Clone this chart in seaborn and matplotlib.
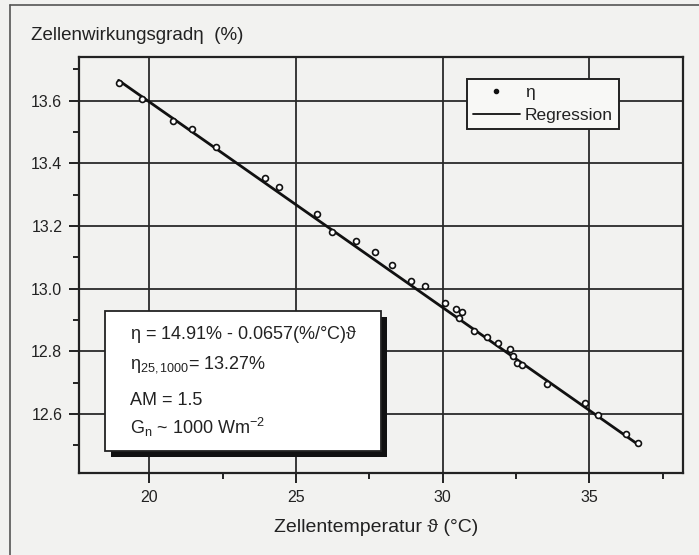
import matplotlib
matplotlib.use('Agg')
import matplotlib.pyplot as plt
from matplotlib.lines import Line2D
from matplotlib.patches import Rectangle
from matplotlib.ticker import MultipleLocator
import seaborn as sns
import pandas as pd

# Messpunkte
temp = [18.98, 19.74, 20.80, 21.45, 22.27, 23.94, 24.43, 25.71, 26.22, 27.04,
        27.70, 28.26, 28.91, 29.40, 30.08, 30.46, 30.65, 30.57, 31.08, 31.50,
        31.88, 32.30, 32.39, 32.53, 32.70, 33.55, 34.86, 35.31, 36.25, 36.67]
eta = [13.655, 13.607, 13.535, 13.511, 13.451, 13.354, 13.325, 13.237, 13.181, 13.153,
       13.116, 13.075, 13.025, 13.008, 12.953, 12.935, 12.926, 12.905, 12.866, 12.845,
       12.826, 12.806, 12.785, 12.764, 12.756, 12.696, 12.636, 12.597, 12.535, 12.507]
# Regressionsgerade (Endpunkte)
reg_temp = [18.95, 36.70]
reg_eta = [13.665, 12.500]

x_ticks = [20, 25, 30, 35]
y_ticks = [12.6, 12.8, 13.0, 13.2, 13.4, 13.6]
info_lines = [r'$\mathregular{\eta}$ = 14.91% - 0.0657(%/°C)ϑ',
              r'$\mathregular{\eta_{25,1000}}$= 13.27%',
              'AM = 1.5',
              r'G$_\mathregular{n}$ ~ 1000 Wm$^\mathregular{-2}$']

df = pd.DataFrame({'temp': temp, 'eta': eta})
reg = pd.DataFrame({'temp': reg_temp, 'eta': reg_eta})

sns.set_theme(style='ticks')
paper = '#f2f2f0'
plt.rcParams['font.family'] = ['Liberation Sans', 'DejaVu Sans']
plt.rcParams.update({'mathtext.fontset': 'custom', 'mathtext.rm': 'Liberation Sans',
                     'mathtext.it': 'Liberation Sans', 'mathtext.default': 'regular',
                     'axes.edgecolor': '#222222', 'text.color': '#222222',
                     'xtick.color': '#222222', 'ytick.color': '#222222'})

fig = plt.figure(figsize=(6.99, 5.55), dpi=100, facecolor=paper)
ax = fig.add_axes([0.113, 0.148, 0.864, 0.749])
ax.set_facecolor(paper)

# Rahmen des Scans (oben und links)
fig.add_artist(Line2D([10 / 699, 1], [1 - 5 / 555, 1 - 5 / 555], transform=fig.transFigure,
                      color='#555555', lw=1.2))
fig.add_artist(Line2D([10 / 699, 10 / 699], [0, 1 - 5 / 555], transform=fig.transFigure,
                      color='#555555', lw=1.2))

ax.grid(True, which='major', color='#2a2a2a', lw=1.3)
ax.set_axisbelow(True)

sns.lineplot(data=reg, x='temp', y='eta', ax=ax, color='#111111', lw=2.0, zorder=3,
             legend=False)
sns.scatterplot(data=df, x='temp', y='eta', ax=ax, marker='o', s=18, facecolor='white',
                edgecolor='#111111', linewidth=1.2, zorder=4, legend=False)

ax.set_xlim(17.6, 38.19)
ax.set_ylim(12.412, 13.739)
ax.set_xticks(x_ticks)
ax.set_yticks(y_ticks)
ax.set_yticklabels([f'{v:.1f}' for v in y_ticks])
ax.xaxis.set_minor_locator(MultipleLocator(2.5))
ax.yaxis.set_minor_locator(MultipleLocator(0.1))
ax.tick_params(which='major', direction='out', length=7, width=1.4, labelsize=11.5, pad=5)
ax.tick_params(which='minor', direction='out', length=4, width=1.4)
for sp in ax.spines.values():
    sp.set_linewidth(1.6)
    sp.set_color('#222222')

ax.set_xlabel('')
ax.set_ylabel('')
fig.text(376 / 699, 1 - 527 / 555, 'Zellentemperatur ϑ (°C)', fontsize=14,
         ha='center', va='center')
fig.text(31 / 699, 1 - 35 / 555, 'Zellenwirkungsgradη  (%)', fontsize=13.5,
         ha='left', va='center')

# Textkasten mit Schatten
bx0, bx1 = 0.043, 0.5
by0, by1 = 0.053, 0.39
ax.add_patch(Rectangle((bx0 + 0.010, by0 - 0.015), bx1 - bx0, by1 - by0,
                       transform=ax.transAxes, facecolor='#111111', edgecolor='none',
                       zorder=5))
ax.add_patch(Rectangle((bx0, by0), bx1 - bx0, by1 - by0, transform=ax.transAxes,
                       facecolor='white', edgecolor='#222222', lw=1.3, zorder=6))
for txt, yp in zip(info_lines, [334, 364, 400, 427]):
    ax.text((130 - 79) / 604, (473 - yp) / 418, txt, transform=ax.transAxes,
            fontsize=13, ha='left', va='center', zorder=7)

handles = [Line2D([], [], color='#111111', marker='o', markersize=3, lw=0),
           Line2D([], [], color='#111111', lw=1.3)]
leg = ax.legend(handles, ['η', 'Regression'], loc='upper left',
                bbox_to_anchor=(0.642, 0.947), fontsize=12.5, frameon=True,
                fancybox=False, framealpha=1, facecolor='#f8f8f6', edgecolor='#222222',
                borderpad=0.35, handlelength=2.7, handletextpad=0.3, labelspacing=0.45,
                borderaxespad=0)
leg.get_frame().set_linewidth(1.4)
leg.set_zorder(8)

fig.savefig('out.png', dpi=100, facecolor=paper)
